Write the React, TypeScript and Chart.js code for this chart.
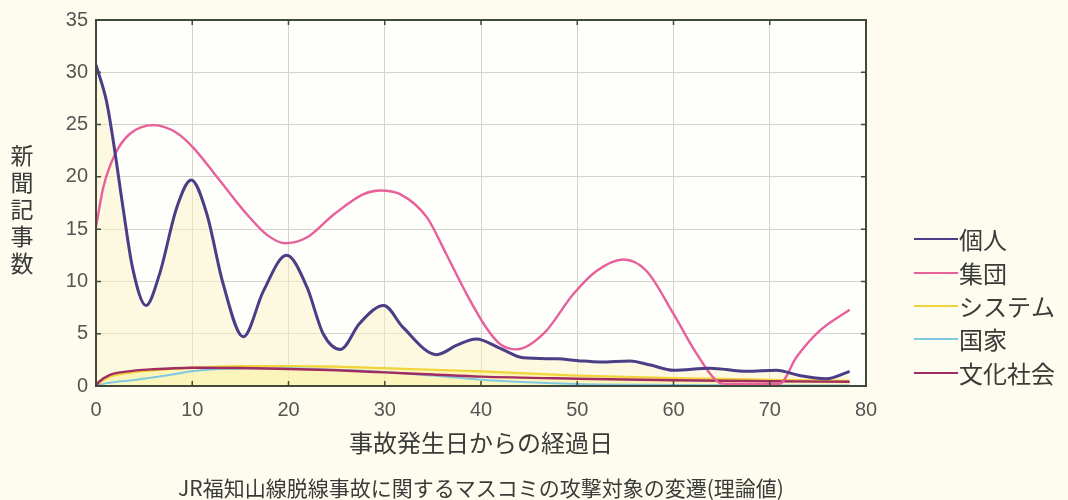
import React, { useEffect, useRef } from 'react';
import { Chart, registerables } from 'chart.js';

Chart.register(...registerables);

const seriesNames = ['個人', '集団', 'システム', '国家', '文化社会'];
const seriesColors = ['#4b3d86', '#e8609a', '#f0d43a', '#80c8e2', '#a02c62'];

const kojinDays = [0, 1.1, 1.8, 2.8, 3.8, 5.2, 6.6, 8.4, 9.9, 11.5, 13.2, 15.3, 17.4, 19.8, 21.9, 23.6, 25.4, 27.4, 29.9, 31.9, 35.4, 37.5, 39.5, 42.0, 44.4, 47.9, 50.3, 52.4, 55.5, 57.6, 60, 63.8, 67.6, 70.7, 73.1, 75.9, 78.3];
const kojinValues = [30.7, 27.2, 23.4, 17.1, 11.3, 7.7, 10.7, 17.1, 19.7, 16.5, 9.8, 4.7, 9.1, 12.5, 9.5, 5.0, 3.5, 6.0, 7.7, 5.6, 3.0, 3.9, 4.5, 3.6, 2.7, 2.6, 2.4, 2.3, 2.4, 2.0, 1.5, 1.7, 1.4, 1.5, 1.0, 0.7, 1.4];

const shudanDays = [0, 0.76, 2.0, 3.5, 6.0, 8.4, 10.1, 12.9, 15.7, 17.7, 19.6, 21.9, 24.7, 27.8, 29.5, 31.6, 34.4, 36.4, 38.5, 40.6, 42, 43.7, 46.5, 49.6, 52, 54.8, 57.2, 60, 62.4, 64.8, 65.5, 71, 72.8, 75.2, 78.3];
const shudanValues = [15.2, 19.0, 22.2, 24.1, 24.95, 24.2, 22.8, 19.6, 16.4, 14.5, 13.65, 14.2, 16.4, 18.35, 18.7, 18.35, 16.1, 12.6, 8.8, 5.5, 4.0, 3.5, 5.0, 8.8, 11.0, 12.1, 11.0, 6.9, 3.1, 0.3, 0.2, 0.2, 2.8, 5.3, 7.3];

const systemDays = [0, 1, 3, 6, 10, 15, 20, 25, 30, 40, 50, 60, 70, 78.3];
const systemValues = [0, 0.7, 1.2, 1.5, 1.75, 1.9, 1.9, 1.85, 1.7, 1.4, 1.0, 0.75, 0.6, 0.5];

const kokkaDays = [0, 1, 4.2, 7.6, 10, 13.5, 20, 25, 30, 35, 40, 45, 50, 60, 70, 78.3];
const kokkaValues = [0, 0.25, 0.6, 1.05, 1.4, 1.65, 1.7, 1.55, 1.35, 1.0, 0.6, 0.35, 0.2, 0.1, 0.05, 0.05];

const bunkaDays = [0, 0.3, 1.4, 3.1, 5.9, 10, 15, 20, 25, 30, 35, 40, 50, 60, 70, 78.3];
const bunkaValues = [0, 0.4, 1.05, 1.37, 1.6, 1.75, 1.72, 1.62, 1.5, 1.3, 1.1, 0.9, 0.7, 0.55, 0.45, 0.4];

const xTickValues = [0, 10, 20, 30, 40, 50, 60, 70, 80];
const yTickValues = [0, 5, 10, 15, 20, 25, 30, 35];

const yAxisTitle = '新聞記事数';
const xAxisTitle = '事故発生日からの経過日';
const caption = 'JR福知山線脱線事故に関するマスコミの攻撃対象の変遷(理論値)';

const FONT = '"Liberation Sans", Arial, sans-serif';
const JFONT = '"Noto Sans CJK JP", "Noto Sans", sans-serif';

const toPoints = (days: number[], vals: number[]) => days.map((d, i) => ({ x: d, y: vals[i] }));

const decorPlugin = {
  id: 'decor',
  beforeDraw(chart: any) {
    const { ctx, chartArea } = chart;
    ctx.save();
    ctx.fillStyle = '#fefefb';
    ctx.fillRect(chartArea.left, chartArea.top, chartArea.right - chartArea.left, chartArea.bottom - chartArea.top);
    ctx.restore();
  },
  afterDatasetsDraw(chart: any) {
    const { ctx, chartArea, scales } = chart;
    const { left, right, top, bottom } = chartArea;
    ctx.save();
    ctx.strokeStyle = '#3f4a3a';
    ctx.lineWidth = 2;
    ctx.strokeRect(left, top, right - left, bottom - top);
    ctx.lineWidth = 1.5;
    ctx.beginPath();
    xTickValues.forEach((v) => {
      const px = scales.x.getPixelForValue(v);
      ctx.moveTo(px, bottom);
      ctx.lineTo(px, bottom - 5);
      ctx.moveTo(px, top);
      ctx.lineTo(px, top + 5);
    });
    yTickValues.forEach((v) => {
      const py = scales.y.getPixelForValue(v);
      ctx.moveTo(left, py);
      ctx.lineTo(left + 5, py);
      ctx.moveTo(right, py);
      ctx.lineTo(right - 5, py);
    });
    ctx.stroke();
    ctx.restore();
  },
  afterDraw(chart: any) {
    const { ctx, chartArea } = chart;
    ctx.save();
    ctx.fillStyle = '#3a3a3a';
    ctx.textAlign = 'center';
    ctx.textBaseline = 'middle';
    ctx.font = `23px ${JFONT}`;
    const chars = Array.from(yAxisTitle);
    chars.forEach((c, i) => {
      ctx.fillText(c, 22, 155 + i * 27);
    });
    const cx = (chartArea.left + chartArea.right) / 2;
    ctx.font = `24px ${JFONT}`;
    ctx.fillText(xAxisTitle, cx, 443);
    ctx.font = `21px ${JFONT}`;
    ctx.fillText(caption, cx, 488);

    ctx.textAlign = 'left';
    ctx.font = `24px ${JFONT}`;
    const ys = [239, 273, 306, 339, 373];
    seriesNames.forEach((name, i) => {
      ctx.strokeStyle = seriesColors[i];
      ctx.lineWidth = 2;
      ctx.beginPath();
      ctx.moveTo(914, ys[i]);
      ctx.lineTo(958, ys[i]);
      ctx.stroke();
      ctx.fillStyle = '#3a3a3a';
      ctx.fillText(name, 959, ys[i] + 1);
    });
    ctx.restore();
  },
};

export default function App() {
  const ref = useRef<HTMLCanvasElement | null>(null);
  useEffect(() => {
    if (!ref.current) return;
    const chart = new Chart(ref.current, {
      type: 'line',
      data: {
        datasets: [
          {
            label: seriesNames[0],
            data: toPoints(kojinDays, kojinValues),
            borderColor: seriesColors[0],
            borderWidth: 3,
            backgroundColor: 'rgba(250, 245, 190, 0.45)',
            fill: 'origin',
            order: 1,
          },
          {
            label: seriesNames[1],
            data: toPoints(shudanDays, shudanValues),
            borderColor: seriesColors[1],
            borderWidth: 2.4,
            fill: false,
            order: 2,
          },
          {
            label: seriesNames[2],
            data: toPoints(systemDays, systemValues),
            borderColor: seriesColors[2],
            borderWidth: 2.2,
            backgroundColor: 'rgba(250, 238, 130, 0.55)',
            fill: 'origin',
            order: 5,
          },
          {
            label: seriesNames[3],
            data: toPoints(kokkaDays, kokkaValues),
            borderColor: seriesColors[3],
            borderWidth: 2,
            fill: false,
            order: 4,
          },
          {
            label: seriesNames[4],
            data: toPoints(bunkaDays, bunkaValues),
            borderColor: seriesColors[4],
            borderWidth: 2.4,
            fill: false,
            order: 3,
          },
        ],
      },
      options: {
        animation: false,
        responsive: false,
        maintainAspectRatio: false,
        devicePixelRatio: 1,
        elements: {
          point: { radius: 0 },
          line: { cubicInterpolationMode: 'monotone' },
        },
        layout: { padding: { top: 18, right: 202, left: 0, bottom: 0 } },
        plugins: {
          legend: { display: false },
          tooltip: { enabled: false },
          filler: { drawTime: 'beforeDatasetsDraw' },
        },
        scales: {
          x: {
            type: 'linear',
            min: 0,
            max: 80,
            afterBuildTicks: (s: any) => {
              s.ticks = xTickValues.map((v) => ({ value: v }));
            },
            afterFit: (s: any) => {
              s.height = 114;
            },
            ticks: {
              color: '#555',
              font: { family: FONT, size: 20 },
              padding: 12,
              maxRotation: 0,
            },
            grid: { color: '#d4d4cc', lineWidth: 1, drawTicks: false },
            border: { display: false },
          },
          y: {
            min: 0,
            max: 35,
            afterBuildTicks: (s: any) => {
              s.ticks = yTickValues.map((v) => ({ value: v }));
            },
            afterFit: (s: any) => {
              s.width = 96;
            },
            ticks: {
              color: '#555',
              font: { family: FONT, size: 20 },
              padding: 8,
            },
            grid: { color: '#d4d4cc', lineWidth: 1, drawTicks: false },
            border: { display: false },
          },
        },
      },
      plugins: [decorPlugin],
    } as any);
    return () => chart.destroy();
  }, []);

  return (
    <div style={{ position: 'fixed', left: 0, top: 0, width: 1068, height: 500, background: '#fdfcee' }}>
      <canvas ref={ref} width={1068} height={500} style={{ width: 1068, height: 500, display: 'block' }} />
    </div>
  );
}
